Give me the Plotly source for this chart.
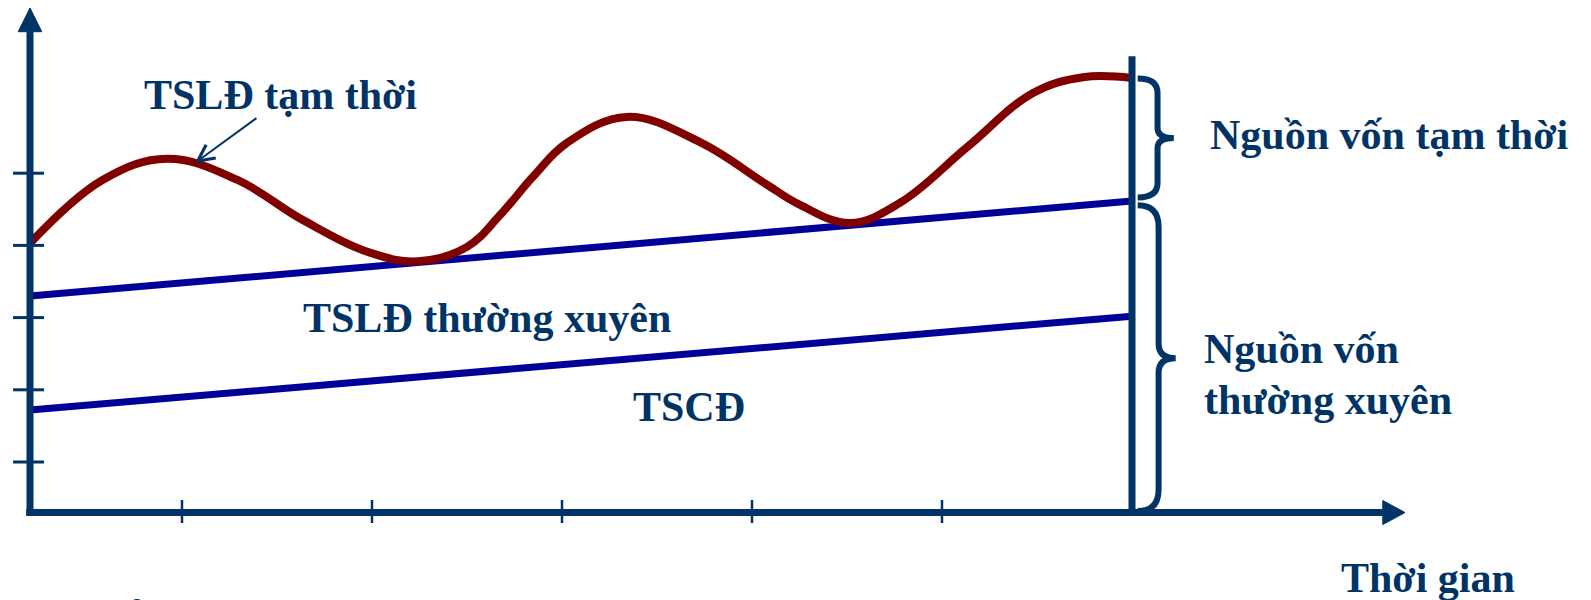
import plotly.graph_objects as go

# ---------------- data ----------------
time_ticks = [1, 2, 3, 4, 5]
value_ticks = [1, 2, 3, 4, 5]

x_origin = 0.2      # time axis origin
y_origin = 0.3      # value axis origin
x_cut = 6.0         # time of the vertical divider

# TSLĐ tạm thời (temporary current assets, total level)
temp_t = [0.2, 0.584, 0.921, 1.289, 1.637, 1.989, 2.242, 2.5, 2.674, 2.847,
          3.026, 3.342, 3.726, 4.079, 4.253, 4.516, 4.779, 5.132, 5.479, 5.742, 6.0]
temp_v = [4.03, 4.91, 5.20, 4.91, 4.35, 3.90, 3.78, 3.98, 4.42, 4.95,
          5.42, 5.78, 5.43, 4.84, 4.56, 4.31, 4.59, 5.36, 6.11, 6.33, 6.32]

# TSLĐ thường xuyên upper boundary
perm_t = [0.2, 6.0]
perm_v = [3.30, 4.615]

# TSCĐ upper boundary
fixed_t = [0.2, 6.0]
fixed_v = [1.72, 3.02]

# ---------------- styles ----------------
NAVY = "#003366"
BLUE = "#000099"
RED = "#800000"
FONT = "Liberation Serif"
FS = 42

# page body has an 8px margin; figure sized/ranged to compensate
X_RANGE = [0.08421, 8.41579]
Y_RANGE = [-0.9114, 7.2881]

fig = go.Figure()

fig.add_trace(go.Scatter(x=fixed_t, y=fixed_v, mode="lines",
                         line=dict(color=BLUE, width=7), hoverinfo="skip"))
fig.add_trace(go.Scatter(x=perm_t, y=perm_v, mode="lines",
                         line=dict(color=BLUE, width=7), hoverinfo="skip"))
fig.add_trace(go.Scatter(x=temp_t, y=temp_v, mode="lines",
                         line=dict(color=RED, width=8, shape="spline", smoothing=1.1),
                         hoverinfo="skip"))

shapes = []
x_end = 7.32
y_end = 6.96
shapes.append(dict(type="line", xref="x", yref="y", x0=x_origin - 0.02, y0=y_origin,
                   x1=x_end, y1=y_origin, line=dict(color=NAVY, width=7)))
shapes.append(dict(type="line", xref="x", yref="y", x0=x_origin, y0=y_origin - 0.04,
                   x1=x_origin, y1=y_end, line=dict(color=NAVY, width=7)))
shapes.append(dict(type="path", xref="x", yref="y",
                   path=f"M {x_end},{y_origin + 0.166} L 7.437,{y_origin} L {x_end},{y_origin - 0.166} Z",
                   fillcolor=NAVY, line=dict(color=NAVY, width=1)))
shapes.append(dict(type="path", xref="x", yref="y",
                   path=f"M {x_origin - 0.062},{y_end} L {x_origin},7.29 L {x_origin + 0.062},{y_end} Z",
                   fillcolor=NAVY, line=dict(color=NAVY, width=1)))
for v in value_ticks:
    shapes.append(dict(type="line", xref="x", yref="y", x0=0.111, y0=v, x1=0.274, y1=v,
                       line=dict(color=NAVY, width=3)))
for t in time_ticks:
    shapes.append(dict(type="line", xref="x", yref="y", x0=t, y0=0.155, x1=t, y1=0.474,
                       line=dict(color=NAVY, width=2.5)))
shapes.append(dict(type="line", xref="x", yref="y", x0=x_cut, y0=y_origin - 0.04,
                   x1=x_cut, y1=6.62, line=dict(color=NAVY, width=7)))


def brace(x0, y_top, y_bot, w=0.19, r=0.2, r2=0.14):
    xs = x0 + 0.55 * w
    xt = x0 + w
    ym = (y_top + y_bot) / 2
    return (f"M {x0},{y_top} Q {xs},{y_top} {xs},{y_top - r} "
            f"L {xs},{ym + r2} Q {xs},{ym} {xt},{ym} "
            f"Q {xs},{ym} {xs},{ym - r2} "
            f"L {xs},{y_bot + r} Q {xs},{y_bot} {x0},{y_bot}")


shapes.append(dict(type="path", xref="x", yref="y",
                   path=brace(x_cut + 0.03, temp_v[-1] - 0.01, perm_v[-1] + 0.05),
                   line=dict(color=NAVY, width=6)))
shapes.append(dict(type="path", xref="x", yref="y",
                   path=brace(x_cut + 0.03, perm_v[-1] - 0.06, y_origin + 0.02, w=0.2, r=0.3, r2=0.2),
                   line=dict(color=NAVY, width=6)))

tfont = dict(family=FONT, size=FS, color=NAVY, weight="bold")
ann = []


def label(text, x, y, xanchor="center"):
    ann.append(dict(text=text, x=x, y=y, xref="x", yref="y", showarrow=False,
                    xanchor=xanchor, yanchor="middle", font=tfont))


label("TSLĐ tạm thời", 1.516, 6.083)
label("TSLĐ thường xuyên", 2.605, 2.994)
label("TSCĐ", 3.668, 1.762)
label("Nguồn vốn tạm thời", 6.4, 5.529, "left")
label("Nguồn vốn", 6.37, 2.565, "left")
label("thường xuyên", 6.37, 1.859, "left")
label("Thời gian", 7.558, -0.607)
ann.append(dict(text="ả", x=0.763, y=-0.76, xref="x", yref="y", showarrow=False,
                xanchor="center", yanchor="top", font=tfont))

ann.append(dict(text="", x=1.068, y=5.141, ax=1.4, ay=5.778, xref="x", yref="y",
                axref="x", ayref="y", showarrow=True, arrowhead=5, arrowsize=1.6,
                arrowwidth=2, arrowcolor=NAVY, standoff=0))

fig.update_layout(
    width=1583, height=592, autosize=False,
    margin=dict(l=0, r=0, t=0, b=0, pad=0),
    paper_bgcolor="white", plot_bgcolor="white",
    showlegend=False,
    xaxis=dict(range=X_RANGE, visible=False, fixedrange=True),
    yaxis=dict(range=Y_RANGE, visible=False, fixedrange=True),
    shapes=shapes, annotations=ann,
)

fig.write_html("out.html", config={"displayModeBar": False})
